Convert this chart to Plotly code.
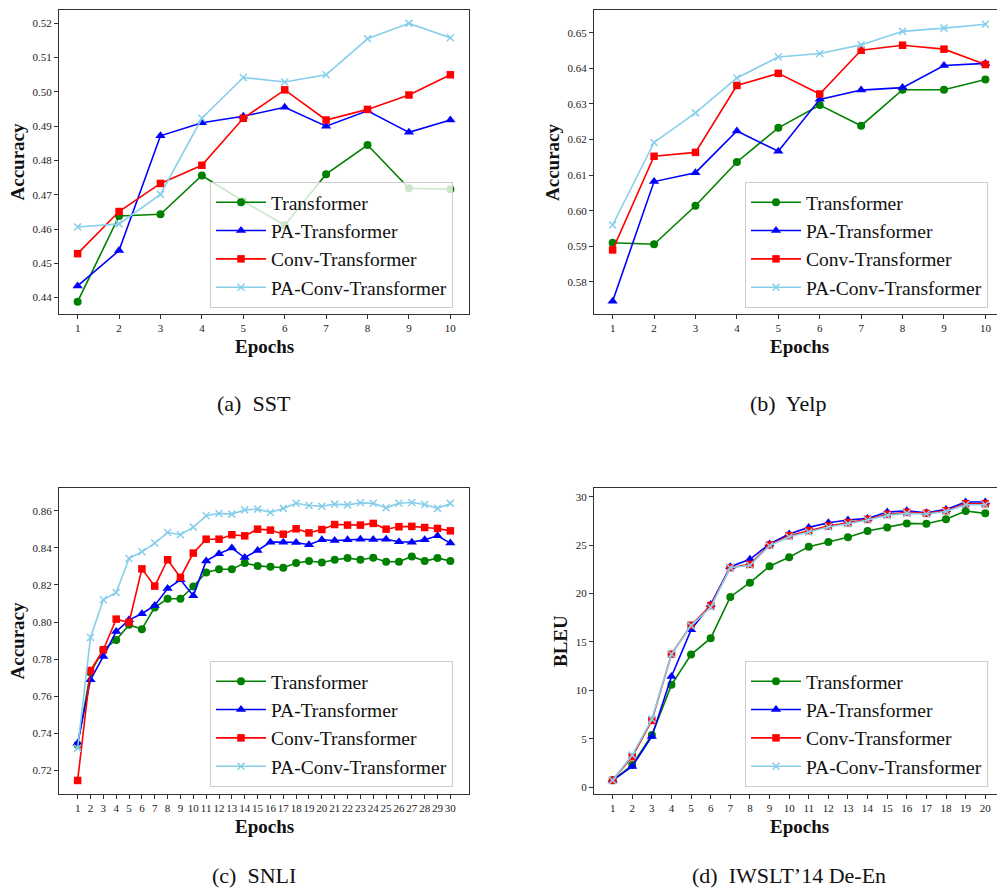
import plotly.graph_objects as go

W, H = 997, 888

series_names = ["Transformer", "PA-Transformer", "Conv-Transformer", "PA-Conv-Transformer"]

# (a) SST
sst_epochs = list(range(1, 11))
sst_transformer = [0.4388, 0.4638, 0.4643, 0.4756, 0.4681, 0.4611, 0.4760, 0.4845, 0.4719, 0.4716]
sst_pa = [0.4434, 0.4537, 0.4872, 0.4910, 0.4929, 0.4955, 0.4900, 0.4945, 0.4882, 0.4918]
sst_conv = [0.4528, 0.4651, 0.4733, 0.4786, 0.4923, 0.5006, 0.4918, 0.4949, 0.4991, 0.5050]
sst_paconv = [0.4606, 0.4615, 0.4701, 0.4923, 0.5042, 0.5029, 0.5050, 0.5155, 0.5200, 0.5158]

# (b) Yelp
yelp_epochs = list(range(1, 11))
yelp_transformer = [0.5910, 0.5906, 0.6014, 0.6137, 0.6233, 0.6297, 0.6239, 0.6340, 0.6340, 0.6369]
yelp_pa = [0.5746, 0.6082, 0.6107, 0.6224, 0.6167, 0.6313, 0.6339, 0.6346, 0.6408, 0.6414]
yelp_conv = [0.5890, 0.6153, 0.6164, 0.6352, 0.6386, 0.6328, 0.6451, 0.6465, 0.6454, 0.6411]
yelp_paconv = [0.5960, 0.6192, 0.6275, 0.6373, 0.6432, 0.6442, 0.6466, 0.6504, 0.6513, 0.6524]

# (c) SNLI
snli_epochs = list(range(1, 31))
snli_transformer = [0.7338, 0.7728, 0.7851, 0.7904, 0.7985, 0.7962, 0.8079, 0.8126, 0.8126, 0.8192,
                    0.8268, 0.8285, 0.8285, 0.8318, 0.8303, 0.8298, 0.8293, 0.8318, 0.8329, 0.8321,
                    0.8336, 0.8345, 0.8336, 0.8347, 0.8325, 0.8325, 0.8354, 0.8329, 0.8345, 0.8330]
snli_pa = [0.7347, 0.7689, 0.7815, 0.7949, 0.8012, 0.8045, 0.8090, 0.8181, 0.8228, 0.8142,
           0.8330, 0.8368, 0.8399, 0.8348, 0.8386, 0.8431, 0.8431, 0.8429, 0.8417, 0.8444,
           0.8440, 0.8444, 0.8447, 0.8445, 0.8447, 0.8433, 0.8431, 0.8444, 0.8465, 0.8426]
snli_conv = [0.7146, 0.7739, 0.7851, 0.8016, 0.7998, 0.8287, 0.8194, 0.8336, 0.8241, 0.8372,
             0.8447, 0.8447, 0.8471, 0.8465, 0.8501, 0.8496, 0.8474, 0.8503, 0.8481, 0.8499,
             0.8526, 0.8523, 0.8523, 0.8532, 0.8501, 0.8514, 0.8516, 0.8510, 0.8505, 0.8492]
snli_paconv = [0.7320, 0.7917, 0.8120, 0.8160, 0.8343, 0.8379, 0.8426, 0.8483, 0.8471, 0.8512,
               0.8573, 0.8586, 0.8582, 0.8605, 0.8609, 0.8591, 0.8613, 0.8641, 0.8629, 0.8625,
               0.8636, 0.8632, 0.8643, 0.8641, 0.8616, 0.8641, 0.8645, 0.8634, 0.8613, 0.8640]

# (d) IWSLT'14 De-En
iwslt_epochs = list(range(1, 21))
iwslt_transformer = [0.69, 2.27, 5.37, 10.56, 13.69, 15.38, 19.64, 21.12, 22.81, 23.74,
                     24.84, 25.32, 25.80, 26.45, 26.83, 27.24, 27.21, 27.66, 28.52, 28.28]
iwslt_pa = [0.69, 2.13, 5.23, 11.42, 16.24, 18.85, 22.77, 23.53, 25.11, 26.14,
            26.83, 27.31, 27.59, 27.76, 28.41, 28.55, 28.35, 28.69, 29.45, 29.45]
iwslt_conv = [0.69, 3.13, 6.88, 13.73, 16.72, 18.75, 22.67, 23.01, 25.01, 25.97,
              26.49, 26.97, 27.31, 27.66, 28.17, 28.38, 28.28, 28.55, 29.27, 29.27]
iwslt_paconv = [0.69, 3.30, 7.02, 13.73, 16.68, 18.58, 22.67, 22.91, 24.94, 25.87,
                26.35, 26.87, 27.21, 27.59, 28.07, 28.28, 28.21, 28.48, 29.17, 29.17]

y_ticks_sst = [0.44, 0.45, 0.46, 0.47, 0.48, 0.49, 0.50, 0.51, 0.52]
y_ticks_yelp = [0.58, 0.59, 0.60, 0.61, 0.62, 0.63, 0.64, 0.65]
y_ticks_snli = [0.72, 0.74, 0.76, 0.78, 0.80, 0.82, 0.84, 0.86]
y_ticks_iwslt = [0, 5, 10, 15, 20, 25, 30]

captions = ["(a)  SST", "(b)  Yelp", "(c)  SNLI", "(d)  IWSLT\u201914 De-En"]
y_titles = ["Accuracy", "Accuracy", "Accuracy", "BLEU"]
x_title = "Epochs"

colors = ["#008000", "#0000FF", "#FF0000", "#87CEEB"]
FONT = "Liberation Serif, Times New Roman, serif"

panels = [
    dict(x=sst_epochs, ys=[sst_transformer, sst_pa, sst_conv, sst_paconv], yticks=y_ticks_sst,
         fmt=".2f", xr=[0.55, 10.45], yr=[0.4352, 0.5239], px=(59, 469), py=(10, 314), mirror_y=True),
    dict(x=yelp_epochs, ys=[yelp_transformer, yelp_pa, yelp_conv, yelp_paconv], yticks=y_ticks_yelp,
         fmt=".2f", xr=[0.55, 10.28], yr=[0.5710, 0.6564], px=(594, 997), py=(10, 314), mirror_y=False),
    dict(x=snli_epochs, ys=[snli_transformer, snli_pa, snli_conv, snli_paconv], yticks=y_ticks_snli,
         fmt=".2f", xr=[-0.45, 31.45], yr=[0.7073, 0.8723], px=(59, 469), py=(488, 794), mirror_y=True),
    dict(x=iwslt_epochs, ys=[iwslt_transformer, iwslt_pa, iwslt_conv, iwslt_paconv], yticks=y_ticks_iwslt,
         fmt="d", xr=[0.05, 20.6], yr=[-0.72, 30.9], px=(594, 997), py=(488, 794), mirror_y=False),
]

markers = [
    dict(symbol="circle", size=8),
    dict(symbol="triangle-up", size=9),
    dict(symbol="square", size=7.5),
    dict(symbol="x-thin", size=7),
]

fig = go.Figure()
layout = dict(
    width=W, height=H, margin=dict(l=0, r=0, t=0, b=0),
    paper_bgcolor="white", plot_bgcolor="white",
    font=dict(family=FONT, color="#222222"),
    annotations=[],
)

legend_pos = [(210, 182), (745, 182), (210, 661), (745, 661)]
cap_pos = [(253.5, 403), (788, 403), (253.5, 875), (789, 875)]
epoch_pos = [(264, 347), (799, 347), (264, 826), (799, 826)]
ytitle_pos = [(16.5, 162), (552, 162), (16.5, 641), (560, 641)]

for i, p in enumerate(panels):
    n = i + 1
    xa = "x" if n == 1 else f"x{n}"
    ya = "y" if n == 1 else f"y{n}"
    lg = "legend" if n == 1 else f"legend{n}"
    for k in range(4):
        m = markers[k]
        mk = dict(symbol=m["symbol"], size=m["size"], color=colors[k])
        if m["symbol"] == "x-thin":
            mk["line"] = dict(color=colors[k], width=1.5)
        else:
            mk["line"] = dict(width=0)
        fig.add_trace(go.Scatter(
            x=p["x"], y=p["ys"][k], mode="lines+markers", name=series_names[k],
            line=dict(color=colors[k], width=1.6), marker=mk,
            xaxis=xa, yaxis=ya, legend=lg,
        ))
    dx = [p["px"][0] / W, p["px"][1] / W]
    dy = [1 - p["py"][1] / H, 1 - p["py"][0] / H]
    axcommon = dict(showline=True, linecolor="#333333", linewidth=1.2, ticks="outside",
                    ticklen=4, tickwidth=1, tickcolor="#333333", showgrid=False, zeroline=False,
                    tickangle=0, tickfont=dict(family=FONT, size=11, color="#222222"))
    layout[f"xaxis{'' if n == 1 else n}"] = dict(
        domain=dx, range=p["xr"], tickmode="array", tickvals=p["x"],
        ticktext=[str(v) for v in p["x"]], mirror=True, anchor=ya, **axcommon)
    layout[f"yaxis{'' if n == 1 else n}"] = dict(
        domain=dy, range=p["yr"], tickmode="array", tickvals=p["yticks"],
        ticktext=[format(v, p["fmt"]) for v in p["yticks"]], mirror=p["mirror_y"], anchor=xa,
        **axcommon)
    lx, ly = legend_pos[i]
    layout[lg] = dict(
        x=lx / W, y=1 - ly / H, xanchor="left", yanchor="top",
        bgcolor="rgba(255,255,255,0.8)", bordercolor="#cccccc", borderwidth=1,
        font=dict(family=FONT, size=19.5, color="#111111"),
        traceorder="normal", itemwidth=50,
    )
    cx, cy = cap_pos[i]
    layout["annotations"].append(dict(
        x=cx / W, y=1 - cy / H, xref="paper", yref="paper", text=captions[i], showarrow=False,
        xanchor="center", yanchor="middle", font=dict(family=FONT, size=22, color="#111111")))
    ex, ey = epoch_pos[i]
    layout["annotations"].append(dict(
        x=ex / W, y=1 - ey / H, xref="paper", yref="paper", text=f"<b>{x_title}</b>",
        showarrow=False, xanchor="center", yanchor="middle",
        font=dict(family=FONT, size=19, color="#111111")))
    tx, ty = ytitle_pos[i]
    layout["annotations"].append(dict(
        x=tx / W, y=1 - ty / H, xref="paper", yref="paper", text=f"<b>{y_titles[i]}</b>",
        showarrow=False, xanchor="center", yanchor="middle", textangle=-90,
        font=dict(family=FONT, size=19, color="#111111")))

fig.update_layout(**layout)
fig.write_html(
    "out.html",
    config={"displayModeBar": False},
    post_script="document.body.style.margin='0';document.body.style.overflow='hidden';",
)
